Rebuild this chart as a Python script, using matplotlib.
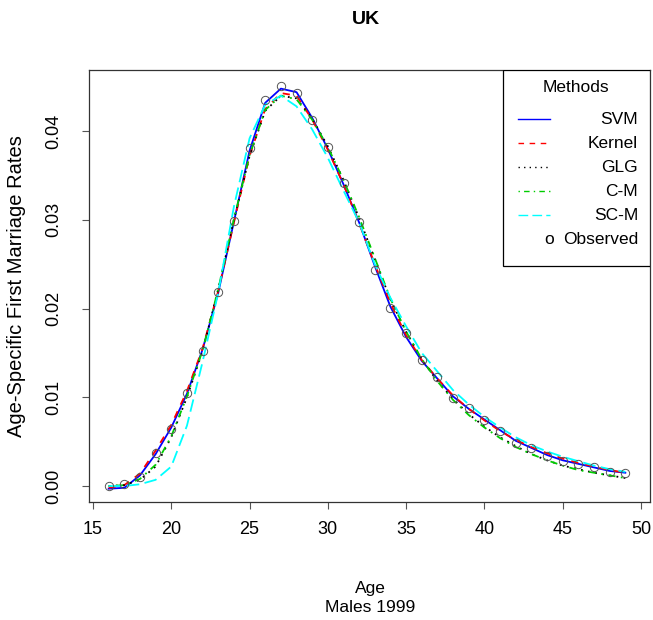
import numpy as np
import matplotlib as mpl
mpl.use('Agg')
import matplotlib.pyplot as plt
from matplotlib.patches import Rectangle

plt.rcParams['font.family'] = ['Liberation Sans', 'DejaVu Sans']

# ages and rates
ages = np.arange(16, 50)
observed = [0.0000, 0.0002, 0.0010, 0.0037, 0.0064, 0.0105, 0.0152, 0.0219, 0.0299, 0.0381,
            0.0435, 0.0451, 0.0443, 0.0413, 0.0382, 0.0342, 0.0298, 0.0243, 0.0201, 0.0172,
            0.0142, 0.0123, 0.0099, 0.0088, 0.0075, 0.0062, 0.0049, 0.0043, 0.0034, 0.0028,
            0.0025, 0.0021, 0.0016, 0.0015]
svm = [-0.0003, -0.0002, 0.0012, 0.0036, 0.0066, 0.0104, 0.0154, 0.0218, 0.0298, 0.0378,
       0.0432, 0.0448, 0.0444, 0.0415, 0.0380, 0.0340, 0.0297, 0.0248, 0.0202, 0.0168,
       0.0141, 0.0121, 0.0101, 0.0087, 0.0075, 0.0063, 0.0051, 0.0043, 0.0035, 0.0029,
       0.0025, 0.0021, 0.0017, 0.0015]
kernel = [-0.0002, 0.0001, 0.0014, 0.0040, 0.0069, 0.0107, 0.0155, 0.0220, 0.0297, 0.0372,
          0.0425, 0.0443, 0.0440, 0.0413, 0.0379, 0.0340, 0.0296, 0.0250, 0.0206, 0.0170,
          0.0142, 0.0121, 0.0102, 0.0087, 0.0074, 0.0062, 0.0052, 0.0044, 0.0037, 0.0031,
          0.0026, 0.0022, 0.0018, 0.0015]
glg = [0.0000, 0.0001, 0.0007, 0.0022, 0.0055, 0.0100, 0.0152, 0.0222, 0.0300, 0.0372,
       0.0423, 0.0440, 0.0437, 0.0414, 0.0383, 0.0345, 0.0302, 0.0256, 0.0210, 0.0174,
       0.0143, 0.0118, 0.0098, 0.0081, 0.0067, 0.0055, 0.0045, 0.0036, 0.0029, 0.0023,
       0.0019, 0.0015, 0.0012, 0.0009]
cm = [0.0000, 0.0001, 0.0008, 0.0024, 0.0056, 0.0101, 0.0153, 0.0222, 0.0301, 0.0373,
      0.0424, 0.0440, 0.0436, 0.0413, 0.0382, 0.0345, 0.0303, 0.0257, 0.0211, 0.0174,
      0.0143, 0.0118, 0.0097, 0.0080, 0.0066, 0.0054, 0.0044, 0.0036, 0.0029, 0.0023,
      0.0018, 0.0015, 0.0012, 0.0009]
scm = [0.0000, 0.0000, 0.0002, 0.0007, 0.0022, 0.0068, 0.0140, 0.0218, 0.0315, 0.0392,
       0.0430, 0.0440, 0.0428, 0.0402, 0.0370, 0.0333, 0.0297, 0.0250, 0.0212, 0.0180,
       0.0150, 0.0129, 0.0108, 0.0092, 0.0078, 0.0066, 0.0055, 0.0046, 0.0039, 0.0033,
       0.0028, 0.0023, 0.0019, 0.0016]

method_names = ['SVM', 'Kernel', 'GLG', 'C-M', 'SC-M']
method_colors = ['#0000FF', '#FF0000', '#000000', '#00CC00', '#00FFFF']
method_dashes = [(None, None), (4, 4), (1, 3), (1, 3, 4, 3), (7, 3)]

fig = plt.figure(figsize=(6.53, 6.2), dpi=100)
ax = fig.add_axes([89/653, 118/620, 561/653, 432/620])

series = [svm, kernel, glg, cm, scm]
for vals, col, dsh in zip(series, method_colors, method_dashes):
    ln, = ax.plot(ages, vals, color=col, lw=1.3)
    if dsh[0] is not None:
        ln.set_dashes(dsh)
ax.plot(ages, observed, 'o', ms=6, mfc='none', mec='#555555', mew=0.7)

ax.set_xlim(14.745, 50.575)
ax.set_ylim(-0.0018, 0.0469)
ax.set_xticks(range(15, 51, 5))
ax.set_yticks([0.0, 0.01, 0.02, 0.03, 0.04])
ax.set_yticklabels(['0.00', '0.01', '0.02', '0.03', '0.04'], rotation=90, va='center')
ax.tick_params(direction='out', length=5, width=0.8, labelsize=13, color='#555555')
ax.tick_params(axis='x', pad=9)
ax.tick_params(axis='y', pad=14)
for sp in ax.spines.values():
    sp.set_linewidth(0.9)
    sp.set_color('#333333')

fig.text(366/653, 1 - 20/620, 'UK', ha='center', va='center', fontsize=14, fontweight='bold')
fig.text(370/653, 1 - 588/620, 'Age', ha='center', va='center', fontsize=12.5)
fig.text(370/653, 1 - 608/620, 'Males 1999', ha='center', va='center', fontsize=12.5)
fig.text(17/653, 1 - 286/620, 'Age-Specific First Marriage Rates', ha='center', va='center',
         rotation=90, fontsize=14.5)

# hand-drawn legend, R style
def fx(px):
    return (px - 89) / 561.0

def fy(py):
    return (502 - py) / 432.0

ax.add_patch(Rectangle((fx(503), fy(266)), 1 - fx(503), 1 - fy(266), transform=ax.transAxes,
                       fill=True, facecolor='white', edgecolor='black', lw=0.9, zorder=5))
ax.text(fx(576), fy(88), 'Methods', transform=ax.transAxes, ha='center', va='center',
        fontsize=12.5, zorder=6)
rows = [119, 143, 167, 191, 215]
for name, col, dsh, py in zip(method_names, method_colors, method_dashes, rows):
    ln, = ax.plot([fx(518), fx(550)], [fy(py), fy(py)], color=col, lw=1.0,
                  transform=ax.transAxes, zorder=6)
    if dsh[0] is not None:
        ln.set_dashes(dsh)
    ax.text(fx(638), fy(py), name, transform=ax.transAxes, ha='right', va='center',
            fontsize=12.5, zorder=6)
ax.text(fx(549), fy(239), 'o', transform=ax.transAxes, ha='center', va='center',
        fontsize=12.5, zorder=6)
ax.text(fx(638), fy(239), 'Observed', transform=ax.transAxes, ha='right', va='center',
        fontsize=12.5, zorder=6)

fig.savefig('out.png', dpi=100)
